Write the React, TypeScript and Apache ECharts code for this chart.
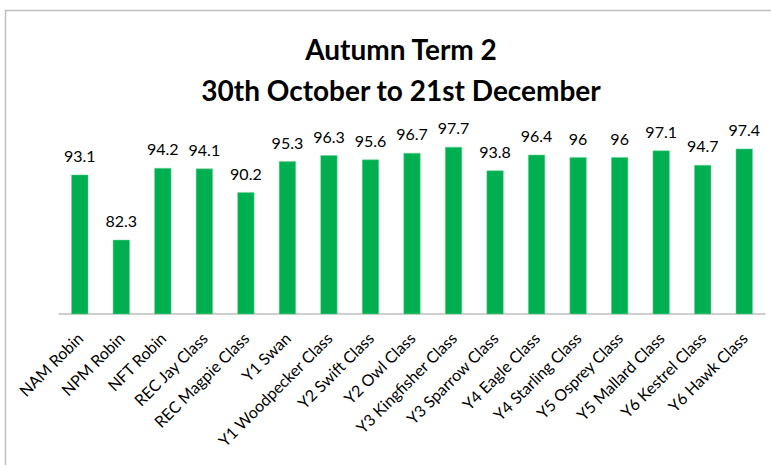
import React, { useEffect, useRef } from "react";
import * as echarts from "echarts";

const titleLines = ["Autumn Term 2", "30th October to 21st December"];
const categories = [
  "NAM Robin", "NPM Robin", "NFT Robin", "REC Jay Class", "REC Magpie Class",
  "Y1 Swan", "Y1 Woodpecker Class", "Y2 Swift Class", "Y2 Owl Class",
  "Y3 Kingfisher Class", "Y3 Sparrow Class", "Y4 Eagle Class", "Y4 Starling Class",
  "Y5 Osprey Class", "Y5 Mallard Class", "Y6 Kestrel Class", "Y6 Hawk Class",
];
const attendance = [93.1, 82.3, 94.2, 94.1, 90.2, 95.3, 96.3, 95.6, 96.7, 97.7, 93.8, 96.4, 96, 96, 97.1, 94.7, 97.4];

export default function App() {
  const ref = useRef<HTMLDivElement>(null);
  useEffect(() => {
    document.body.style.margin = "0";
    const chart = echarts.init(ref.current!, null, { renderer: "svg" });
    chart.setOption({
      animation: false,
      backgroundColor: "#ffffff",
      title: {
        text: titleLines.join("\n"),
        left: 396,
        textAlign: "center",
        top: 23,
        textStyle: {
          fontFamily: "Lato",
          fontWeight: "bold",
          fontSize: 28,
          lineHeight: 41,
          color: "#000000",
        },
      },
      graphic: [
        {
          type: "rect",
          shape: { x: 5.5, y: 10.5, width: 800, height: 500 },
          style: { fill: "none", stroke: "#bfbfbf", lineWidth: 1.5 },
          silent: true,
        },
      ],
      grid: { left: 59, right: 6, top: 133, bottom: 151, containLabel: false },
      xAxis: {
        type: "category",
        data: categories,
        axisLine: { lineStyle: { color: "#bfbfbf", width: 1.5 } },
        axisTick: { show: false },
        axisLabel: {
          rotate: 45,
          interval: 0,
          fontFamily: "Lato",
          fontSize: 16,
          color: "#000000",
          margin: 21,
        },
      },
      yAxis: {
        type: "value",
        min: 70,
        max: 100,
        show: false,
        splitLine: { show: false },
      },
      series: [
        {
          type: "bar",
          data: attendance,
          barWidth: 17,
          itemStyle: { color: "#00B050", borderColor: "#6fd49a", borderWidth: 0.5 },
          label: {
            show: true,
            position: "top",
            distance: 11,
            fontFamily: "Lato",
            fontSize: 16,
            color: "#000000",
          },
        },
      ],
    });
    return () => chart.dispose();
  }, []);
  return <div ref={ref} style={{ width: 771, height: 465 }} />;
}
